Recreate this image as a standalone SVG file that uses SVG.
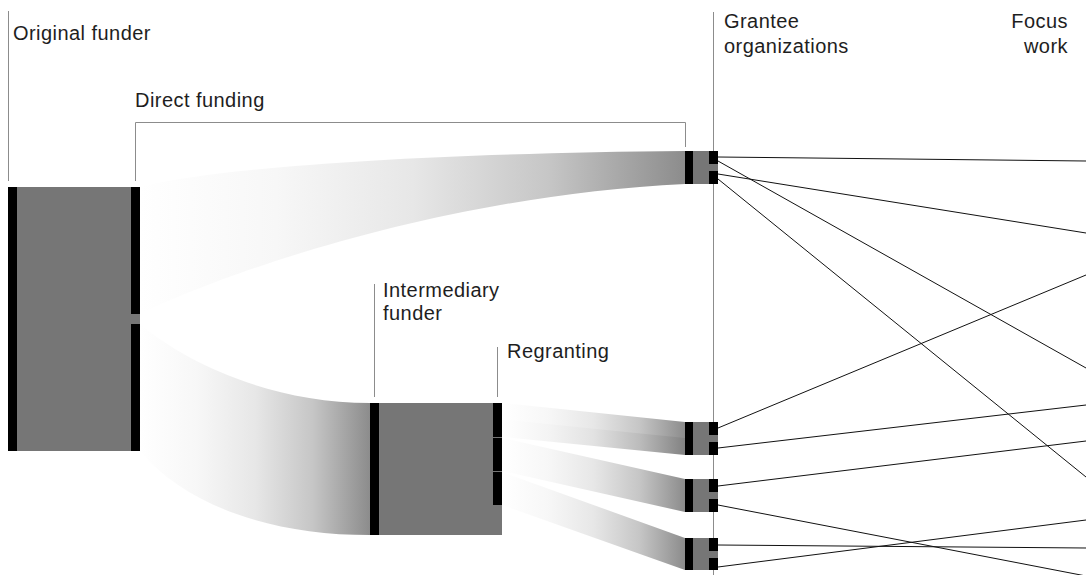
<svg xmlns="http://www.w3.org/2000/svg" width="1086" height="575" viewBox="0 0 1086 575">
<style>
.lbl{font-family:"Liberation Sans",Arial,sans-serif;font-size:20px;fill:#1e1e1e;letter-spacing:0.45px}
.guide{stroke:#8c8c8c;stroke-width:1;fill:none}
.body{fill:#767676}
.bar{fill:#000}
.flow{fill:url(#fade)}
.flowd{fill:url(#fadeDark)}
.link{stroke:#111;stroke-width:1;fill:none}
</style>
<defs>
<linearGradient id="fade" x1="0" y1="0" x2="1" y2="0">
<stop offset="0" stop-color="#ffffff"/>
<stop offset="0.25" stop-color="#f7f7f7"/>
<stop offset="0.5" stop-color="#e7e7e7"/>
<stop offset="0.75" stop-color="#c6c6c6"/>
<stop offset="1" stop-color="#8c8c8c"/>
</linearGradient>
<linearGradient id="fadeDark" x1="0" y1="0" x2="1" y2="0">
<stop offset="0" stop-color="#ffffff"/>
<stop offset="0.25" stop-color="#f4f4f4"/>
<stop offset="0.5" stop-color="#e2e2e2"/>
<stop offset="0.75" stop-color="#bcbcbc"/>
<stop offset="1" stop-color="#828282"/>
</linearGradient>
</defs>
<rect width="1086" height="575" fill="#fff"/>

<g id="guides">
<line class="guide" x1="8.5" y1="11" x2="8.5" y2="181"/>
<path class="guide" d="M135.5,181 V122.5 H685.5 V147"/>
<line class="guide" x1="374.5" y1="284" x2="374.5" y2="397"/>
<line class="guide" x1="497.5" y1="347" x2="497.5" y2="397"/>
<line class="guide" x1="713.5" y1="12" x2="713.5" y2="575"/>
</g>

<g id="connectors">
<path class="flow" d="M140,187 C230,165 450,153 685,151 L685,184 C450,195 230,270 140,314 Z"/>
<path class="flow" d="M140,324 C185,362 270,403 370,403 L370,535 C270,535 185,505 140,451 Z"/>
<path class="flow" d="M502,403 L685,422 L685,439 L502,420.5 Z"/>
<path class="flowd" d="M502,419.5 L685,438 L685,455 L502,437 Z"/>
<path class="flow" d="M502,438 L685,479 L685,512 L502,471 Z"/>
<path class="flow" d="M502,472 L685,538 L685,570 L502,505 Z"/>
<line class="link" x1="718" y1="157" x2="1086" y2="161"/>
<line class="link" x1="718" y1="174" x2="1086" y2="233"/>
<line class="link" x1="718" y1="161" x2="1086" y2="368"/>
<line class="link" x1="718" y1="428" x2="1086" y2="275"/>
<line class="link" x1="718" y1="179" x2="1086" y2="477"/>
<line class="link" x1="718" y1="448" x2="1086" y2="405"/>
<line class="link" x1="718" y1="486" x2="1086" y2="441"/>
<line class="link" x1="718" y1="567" x2="1086" y2="520"/>
<line class="link" x1="718" y1="545" x2="1086" y2="548"/>
<line class="link" x1="718" y1="505" x2="1086" y2="576"/>
</g>

<g id="original-funder">
<rect class="body" x="8" y="187" width="132" height="264"/>
<rect class="bar" x="8" y="187" width="9" height="264"/>
<rect class="bar" x="131" y="187" width="9" height="127"/>
<rect class="bar" x="131" y="324" width="9" height="127"/>
<text class="lbl" x="13" y="40">Original funder</text>
</g>

<g id="direct-funding-label">
<text class="lbl" x="135" y="106.5">Direct funding</text>
</g>

<g id="intermediary-funder">
<rect class="body" x="370" y="403" width="132" height="132"/>
<rect class="bar" x="370" y="403" width="9" height="132"/>
<rect class="bar" x="493" y="403" width="9" height="34"/>
<rect class="bar" x="493" y="438" width="9" height="33"/>
<rect class="bar" x="493" y="472" width="9" height="33"/>
<text class="lbl" x="383" y="297">Intermediary</text>
<text class="lbl" x="383" y="320">funder</text>
<text class="lbl" x="507" y="357.5">Regranting</text>
</g>

<g id="grantee-1">
<rect class="body" x="685" y="151" width="33" height="33"/>
<rect class="bar" x="685" y="151" width="8" height="33"/>
<rect class="bar" x="709" y="151" width="9" height="13"/>
<rect class="bar" x="709" y="171" width="9" height="13"/>
</g>
<g id="grantee-2">
<rect class="body" x="685" y="422" width="33" height="33"/>
<rect class="bar" x="685" y="422" width="8" height="33"/>
<rect class="bar" x="709" y="422" width="9" height="13"/>
<rect class="bar" x="709" y="442" width="9" height="13"/>
</g>
<g id="grantee-3">
<rect class="body" x="685" y="479" width="33" height="33"/>
<rect class="bar" x="685" y="479" width="8" height="33"/>
<rect class="bar" x="709" y="479" width="9" height="13"/>
<rect class="bar" x="709" y="499" width="9" height="13"/>
</g>
<g id="grantee-4">
<rect class="body" x="685" y="538" width="33" height="32"/>
<rect class="bar" x="685" y="538" width="8" height="32"/>
<rect class="bar" x="709" y="538" width="9" height="13"/>
<rect class="bar" x="709" y="558" width="9" height="12"/>
</g>

<g id="column-labels">
<text class="lbl" x="724" y="28">Grantee</text>
<text class="lbl" x="724" y="53">organizations</text>
<text class="lbl" x="1068" y="28" text-anchor="end">Focus</text>
<text class="lbl" x="1068" y="53" text-anchor="end">work</text>
</g>
</svg>
